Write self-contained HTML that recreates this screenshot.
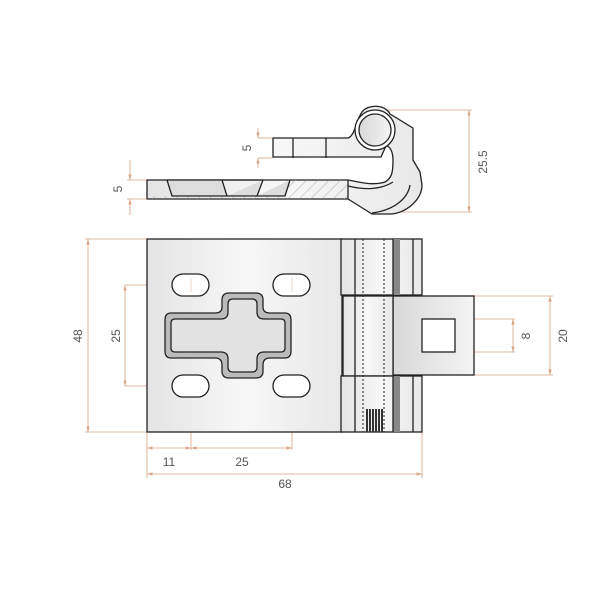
<!DOCTYPE html>
<html><head><style>html,body{margin:0;padding:0;background:#fff}svg{display:block}</style></head><body>
<svg width="600" height="600" viewBox="0 0 600 600" xmlns="http://www.w3.org/2000/svg" font-family="Liberation Sans, sans-serif">
<defs>
<linearGradient id="g" x1="0" x2="1" y1="0" y2="0"><stop offset="0" stop-color="#e4e4e4"/><stop offset="0.5" stop-color="#f7f7f7"/><stop offset="1" stop-color="#e8e8e8"/></linearGradient>
<linearGradient id="g2" x1="0" x2="1"><stop offset="0" stop-color="#d8d8d8"/><stop offset="1" stop-color="#f4f4f4"/></linearGradient>
<pattern id="h" width="8" height="8" patternUnits="userSpaceOnUse" patternTransform="rotate(45)"><line x1="0" y1="0" x2="0" y2="8" stroke="#999" stroke-width="0.8"/></pattern>
<pattern id="t" width="3" height="4" patternUnits="userSpaceOnUse"><rect width="2" height="4" fill="#333"/></pattern>
<marker id="a" viewBox="0 0 10 10" refX="10" refY="5" markerWidth="7" markerHeight="7" orient="auto-start-reverse"><path d="M0 2 L10 5 L0 8 Z" fill="#d9a384"/></marker>
</defs>
<g stroke="#d9a384" stroke-width="0.8" fill="none">
<line x1="375" y1="110" x2="472" y2="110"/><line x1="375" y1="212" x2="472" y2="212"/>
<line x1="469" y1="110" x2="469" y2="212" marker-start="url(#a)" marker-end="url(#a)"/>
<line x1="258" y1="128" x2="258" y2="138" marker-end="url(#a)"/><line x1="258" y1="168" x2="258" y2="158" marker-end="url(#a)"/>
<line x1="258" y1="138" x2="273" y2="138"/><line x1="258" y1="158" x2="273" y2="158"/>
<line x1="130" y1="160" x2="130" y2="180" marker-end="url(#a)"/><line x1="130" y1="215" x2="130" y2="199" marker-end="url(#a)"/>
<line x1="127" y1="180" x2="147" y2="180"/><line x1="127" y1="199" x2="147" y2="199"/>
<line x1="85" y1="239" x2="147" y2="239"/><line x1="85" y1="432" x2="147" y2="432"/>
<line x1="88" y1="239" x2="88" y2="432" marker-start="url(#a)" marker-end="url(#a)"/>
<line x1="125" y1="285" x2="172" y2="285"/><line x1="125" y1="386" x2="172" y2="386"/>
<line x1="125" y1="285" x2="125" y2="386" marker-start="url(#a)" marker-end="url(#a)"/>
<line x1="172" y1="255" x2="172" y2="285"/><line x1="209" y1="255" x2="209" y2="285"/>
<line x1="172" y1="258" x2="209" y2="258" marker-start="url(#a)" marker-end="url(#a)"/>
<line x1="191" y1="268" x2="191" y2="302"/><line x1="292" y1="268" x2="292" y2="302"/>
<line x1="178" y1="285" x2="204" y2="285"/><line x1="279" y1="285" x2="305" y2="285"/>
<line x1="178" y1="386" x2="204" y2="386"/><line x1="279" y1="386" x2="305" y2="386"/>
<line x1="147" y1="432" x2="147" y2="478"/><line x1="191" y1="370" x2="191" y2="450"/><line x1="292" y1="370" x2="292" y2="450"/><line x1="422" y1="432" x2="422" y2="478"/>
<line x1="147" y1="448" x2="191" y2="448" marker-start="url(#a)" marker-end="url(#a)"/>
<line x1="191" y1="448" x2="292" y2="448" marker-start="url(#a)" marker-end="url(#a)"/>
<line x1="147" y1="474" x2="422" y2="474" marker-start="url(#a)" marker-end="url(#a)"/>
<line x1="474" y1="296" x2="553" y2="296"/><line x1="474" y1="375" x2="553" y2="375"/>
<line x1="550" y1="296" x2="550" y2="375" marker-start="url(#a)" marker-end="url(#a)"/>
<line x1="455" y1="319" x2="515" y2="319"/><line x1="455" y1="352" x2="515" y2="352"/>
<line x1="513" y1="319" x2="513" y2="352" marker-start="url(#a)" marker-end="url(#a)"/>
<line x1="412" y1="335" x2="465" y2="335"/><line x1="438" y1="310" x2="438" y2="360"/>
</g>
<g fill="#555" font-size="12" text-anchor="middle">
<text x="191" y="252">9</text>
<text x="169" y="466">11</text>
<text x="242" y="466">25</text>
<text x="285" y="488">68</text>
<text transform="translate(82,336) rotate(-90)">48</text>
<text transform="translate(120,336) rotate(-90)">25</text>
<text transform="translate(567,336) rotate(-90)">20</text>
<text transform="translate(530,336) rotate(-90)">8</text>
<text transform="translate(251,148) rotate(-90)">5</text>
<text transform="translate(122,189) rotate(-90)">5</text>
<text transform="translate(487,162) rotate(-90)">25.5</text>
</g>
<g stroke="#222" stroke-width="1.3" stroke-linejoin="round">
<path d="M147 180 H348 C360 182 372 186 385 182 C392 178 393 172 393 160 C393 152 390 146 386 146 L381 157 H273 V138 H348 C355 136 356 120 362 112 C368 104 385 104 390 114 L413 128 L413 160 L420 172 L422 185 C422 200 405 214 390 214 H372 L348 199 H147 Z" fill="url(#g)"/>
<rect x="285" y="180" width="63" height="19" fill="url(#h)" stroke="none"/>
<rect x="147" y="196" width="140" height="3" fill="url(#h)" stroke="none"/>
<path d="M167 180 L172 196 H227 L222 180 M263 180 L257 196 H227 M263 180 H167 M290 180 L285 196 H257" fill="#ddd"/>
<path d="M348 180 V199 M372 213 C395 210 408 198 410 185 M348 186 C365 190 380 190 393 182" fill="none"/>
<line x1="293" y1="138" x2="293" y2="158"/><line x1="326" y1="138" x2="326" y2="158"/>
<circle cx="375" cy="130" r="20" fill="#fff"/>
<circle cx="375" cy="130" r="16" fill="url(#g2)"/>
</g>
<g stroke="#222" stroke-width="1.3">
<rect x="147" y="239" width="195" height="193" fill="url(#g)"/>
<rect x="393" y="296" width="81" height="79" fill="url(#g2)"/>
<rect x="422" y="319" width="33" height="33" fill="#fff"/>
<rect x="341" y="239" width="81" height="56" fill="url(#g)"/>
<rect x="343" y="296" width="50" height="80" fill="url(#g)"/>
<rect x="341" y="376" width="81" height="56" fill="url(#g)"/>
<rect x="393" y="239" width="7" height="56" fill="#888" stroke="none"/>
<rect x="393" y="376" width="7" height="56" fill="#888" stroke="none"/>
<path d="M355 239 V432 M393 239 V295 M413 239 V295 M393 376 V432 M413 376 V432" fill="none"/>
<path d="M363 239 V432 M384 239 V432" stroke-dasharray="2 2" stroke-width="1" fill="none"/>
<rect x="366" y="409" width="18" height="23" fill="url(#t)" stroke="none"/>
<g fill="#fff">
<rect x="172" y="274" width="37" height="22" rx="11"/><rect x="273" y="274" width="37" height="22" rx="11"/>
<rect x="172" y="375" width="37" height="22" rx="11"/><rect x="273" y="375" width="37" height="22" rx="11"/>
</g>
<path d="M229 293 H256 Q263 293 263 300 V307 Q263 313 270 313 H285 Q291 313 291 320 V351 Q291 358 285 358 H270 Q263 358 263 365 V371 Q263 378 256 378 H229 Q222 378 222 371 V365 Q222 358 215 358 H171 Q165 358 165 351 V320 Q165 313 171 313 H215 Q222 313 222 307 V300 Q222 293 229 293 Z" fill="#bbb"/>
<path d="M233 299 H252 Q257 299 257 304 V312 Q257 319 264 319 H281 Q285 319 285 323 V348 Q285 352 281 352 H264 Q257 352 257 359 V367 Q257 372 252 372 H233 Q228 372 228 367 V359 Q228 352 221 352 H175 Q171 352 171 348 V323 Q171 319 175 319 H221 Q228 319 228 312 V304 Q228 299 233 299 Z" fill="#e2e2e2"/>
</g>
<g stroke="#d9a384" stroke-width="0.6" opacity="0.7">
<line x1="191" y1="278" x2="191" y2="292"/><line x1="292" y1="278" x2="292" y2="292"/>
</g>
</svg>
</body></html>
